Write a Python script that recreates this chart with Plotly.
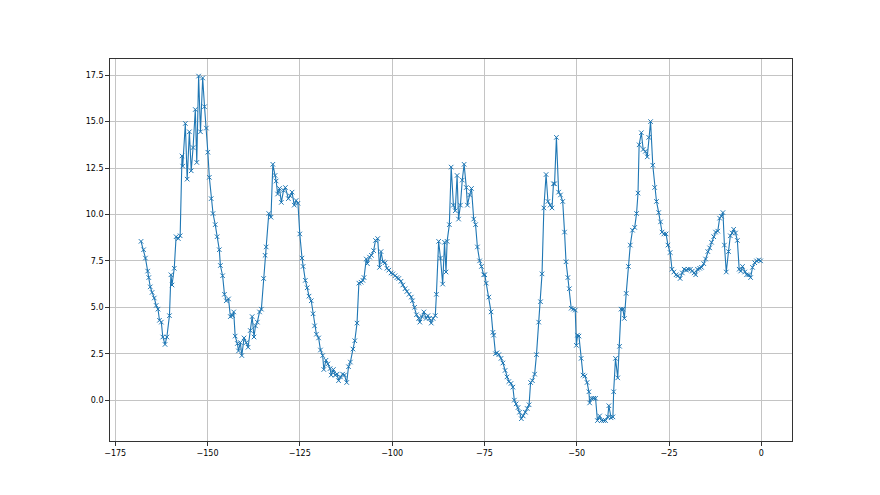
import plotly.graph_objects as go

x_vals = [
    -168.0, -167.3, -166.8, -166.2, -165.9, -165.5, -165.0, -164.4, -163.9, -163.4,
    -163.0, -162.5, -162.1, -161.5, -161.0, -160.3, -159.9, -159.6, -159.0, -158.5,
    -157.9, -157.4, -156.9, -156.7, -156.0, -155.5, -154.9, -154.4, -153.9, -153.3,
    -152.9, -152.4, -151.9, -151.3, -150.8, -150.3, -149.9, -149.5, -149.0, -148.5,
    -147.9, -147.4, -146.8, -146.5, -145.9, -145.4, -144.9, -144.3, -143.8, -143.2,
    -142.9, -142.5, -141.9, -141.6, -141.1, -140.7, -140.1, -139.5, -139.0, -138.4,
    -137.9, -137.4, -137.0, -136.5, -135.9, -135.4, -134.8, -134.4, -134.1, -133.4,
    -132.8, -132.3, -131.7, -131.4, -131.0, -130.5, -130.0, -129.4, -128.9, -128.1,
    -127.6, -127.1, -126.5, -126.0, -125.5, -125.0, -124.4, -124.1, -123.5, -123.0,
    -122.5, -121.9, -121.4, -121.0, -120.5, -119.9, -119.4, -118.8, -118.5, -117.9,
    -117.4, -116.8, -116.5, -115.9, -115.4, -114.9, -114.5, -114.0, -113.4, -112.9,
    -112.3, -111.8, -111.3, -110.6, -110.1, -109.5, -109.0, -108.4, -107.9, -107.6,
    -107.0, -106.7, -106.1, -105.6, -105.0, -104.5, -103.9, -103.4, -103.0, -102.5,
    -101.9, -101.4, -100.9, -100.3, -99.8, -99.2, -98.7, -98.2, -97.6, -97.1,
    -96.5, -96.0, -95.4, -94.8, -94.5, -93.9, -93.4, -92.8, -92.5, -91.9,
    -91.4, -90.8, -90.3, -89.9, -89.4, -88.9, -88.3, -88.0, -87.4, -86.9,
    -86.3, -85.8, -85.4, -85.1, -84.5, -84.0, -83.4, -82.9, -82.4, -82.0,
    -81.5, -81.0, -80.5, -79.9, -79.6, -79.0, -78.5, -77.9, -77.4, -76.9,
    -76.3, -75.8, -75.2, -74.9, -74.5, -73.8, -73.2, -72.7, -72.5, -72.0,
    -71.6, -71.1, -70.5, -70.0, -69.4, -68.9, -68.4, -67.8, -67.3, -66.9,
    -66.4, -65.9, -65.5, -65.0, -64.5, -63.9, -63.4, -62.9, -62.5, -62.0,
    -61.4, -60.9, -60.3, -59.8, -59.4, -58.9, -58.3, -57.8, -57.2, -56.7,
    -56.3, -56.0, -55.5, -54.9, -54.4, -53.8, -53.3, -52.9, -52.4, -52.0,
    -51.5, -50.9, -50.4, -50.1, -49.8, -49.4, -48.8, -48.3, -47.8, -47.2,
    -46.7, -46.5, -46.0, -45.4, -44.9, -44.4, -43.8, -43.3, -42.7, -42.2,
    -41.6, -41.3, -40.7, -40.2, -40.0, -39.5, -38.9, -38.4, -38.0, -37.5,
    -37.1, -36.6, -36.0, -35.5, -34.9, -34.3, -33.8, -33.4, -33.1, -32.5,
    -32.0, -31.4, -30.9, -30.5, -30.0, -29.4, -28.9, -28.4, -27.8, -27.3,
    -26.9, -26.4, -25.8, -25.3, -24.7, -24.2, -23.7, -23.1, -22.6, -22.0,
    -21.4, -20.9, -20.3, -19.8, -19.2, -18.7, -18.2, -17.8, -17.3, -16.7,
    -16.2, -15.6, -15.1, -14.5, -14.0, -13.5, -12.9, -12.4, -11.8, -11.3,
    -10.8, -10.4, -10.0, -9.5, -8.9, -8.4, -7.9, -7.5, -7.0, -6.5,
    -6.0, -5.6, -5.1, -4.5, -4.0, -3.4, -2.9, -2.4, -1.8, -1.3,
    -0.7, -0.2,
]

y_vals = [
    8.55, 8.1, 7.65, 6.95, 6.6, 6.1, 5.8, 5.5, 5.1, 4.9,
    4.3, 4.2, 3.4, 3.0, 3.4, 4.55, 6.75, 6.2, 7.1, 8.8,
    8.7, 8.85, 13.15, 12.6, 14.9, 11.9, 14.45, 12.35, 13.6, 15.65,
    12.8, 17.45, 14.45, 17.35, 15.8, 14.65, 13.35, 12.0, 10.85, 10.05,
    9.45, 8.8, 8.1, 7.25, 6.7, 5.7, 5.35, 5.45, 4.5, 4.55,
    4.75, 3.45, 3.05, 2.65, 3.1, 2.4, 3.35, 3.1, 2.85, 3.75,
    4.5, 3.4, 4.0, 4.2, 4.75, 4.9, 6.55, 7.8, 8.25, 10.05,
    9.85, 12.7, 12.1, 11.8, 11.1, 11.4, 10.65, 11.3, 11.45, 10.85,
    11.0, 11.2, 10.5, 10.75, 10.6, 8.95, 7.65, 7.2, 6.45, 6.05,
    5.6, 5.35, 4.65, 4.0, 3.55, 3.35, 2.7, 2.4, 1.65, 2.15,
    1.95, 1.7, 1.35, 1.65, 1.35, 1.4, 1.05, 1.25, 1.4, 1.35,
    0.95, 1.8, 2.05, 2.75, 3.2, 4.15, 6.3, 6.35, 6.45, 6.6,
    7.6, 7.35, 7.7, 7.8, 8.05, 8.6, 8.7, 7.15, 8.0, 7.45,
    7.4, 7.1, 7.0, 6.85, 6.8, 6.7, 6.6, 6.55, 6.4, 6.2,
    6.0, 5.85, 5.7, 5.55, 5.35, 5.0, 4.6, 4.4, 4.2, 4.5,
    4.75, 4.4, 4.55, 4.4, 4.15, 4.4, 4.55, 5.7, 8.55, 7.65,
    6.25, 8.5, 6.9, 8.55, 9.45, 12.55, 10.5, 10.2, 12.1, 9.75,
    10.5, 11.85, 12.7, 11.45, 10.5, 11.05, 11.4, 9.75, 9.45, 8.25,
    7.5, 7.2, 6.75, 6.75, 6.3, 5.55, 4.75, 3.65, 3.5, 2.5,
    2.55, 2.45, 2.25, 2.0, 1.6, 1.25, 1.0, 0.9, 0.7, 0.0,
    -0.2, -0.4, -0.65, -1.0, -0.85, -0.65, -0.45, -0.25, 0.95, 1.05,
    1.4, 2.45, 4.2, 5.3, 6.8, 10.35, 12.15, 10.7, 10.5, 10.35,
    11.65, 11.65, 14.15, 11.2, 11.05, 10.7, 9.05, 7.45, 6.6, 6.0,
    4.95, 4.9, 4.85, 2.95, 3.5, 3.45, 2.25, 1.35, 1.3, 0.95,
    0.45, -0.15, 0.1, 0.1, 0.1, -1.1, -0.85, -1.1, -1.1, -1.1,
    -0.9, -0.3, -0.95, -0.9, 0.45, 2.25, 1.2, 2.9, 4.9, 4.9,
    4.4, 5.75, 7.2, 8.35, 9.15, 9.3, 10.05, 11.15, 13.75, 14.4,
    13.5, 13.4, 13.1, 14.15, 15.0, 12.65, 11.45, 10.7, 10.1, 9.6,
    9.05, 8.95, 8.95, 8.35, 7.95, 7.05, 6.9, 6.75, 6.7, 6.55,
    6.85, 7.05, 7.0, 7.05, 7.05, 6.95, 6.85, 6.75, 7.05, 7.1,
    7.15, 7.35, 7.6, 8.0, 8.2, 8.5, 8.8, 9.05, 9.1, 9.8,
    9.9, 10.1, 8.35, 6.9, 8.0, 8.85, 9.0, 9.2, 9.0, 8.6,
    7.05, 6.95, 7.2, 6.9, 6.75, 6.75, 6.6, 7.15, 7.4, 7.5,
    7.55, 7.5,
]

x_ticks = [-175, -150, -125, -100, -75, -50, -25, 0]
y_ticks = [0.0, 2.5, 5.0, 7.5, 10.0, 12.5, 15.0, 17.5]

fig = go.Figure()
fig.add_trace(go.Scatter(
    x=x_vals, y=y_vals, mode="lines+markers",
    line=dict(color="#1f77b4", width=1.1),
    marker=dict(symbol="x-thin", size=4.5, color="#1f77b4",
                line=dict(color="#1f77b4", width=1)),
    showlegend=False,
))

axis_common = dict(
    showgrid=True, gridcolor="#c4c4c4", gridwidth=0.8,
    showline=True, linecolor="#333333", linewidth=0.8, mirror=True,
    ticks="outside", ticklen=4, tickcolor="#333333", tickwidth=0.8,
    zeroline=False,
    tickfont=dict(family="DejaVu Sans", size=8, color="#000000"),
)

fig.update_layout(
    width=872, height=487,
    margin=dict(l=102, r=88, t=51, b=54),
    paper_bgcolor="white", plot_bgcolor="white",
    xaxis=dict(range=[-176.4, 8.3], tickvals=x_ticks, **axis_common),
    yaxis=dict(range=[-2.2, 18.37], tickvals=y_ticks, tickformat=".1f", **axis_common),
)

fig.write_html("out.html")
